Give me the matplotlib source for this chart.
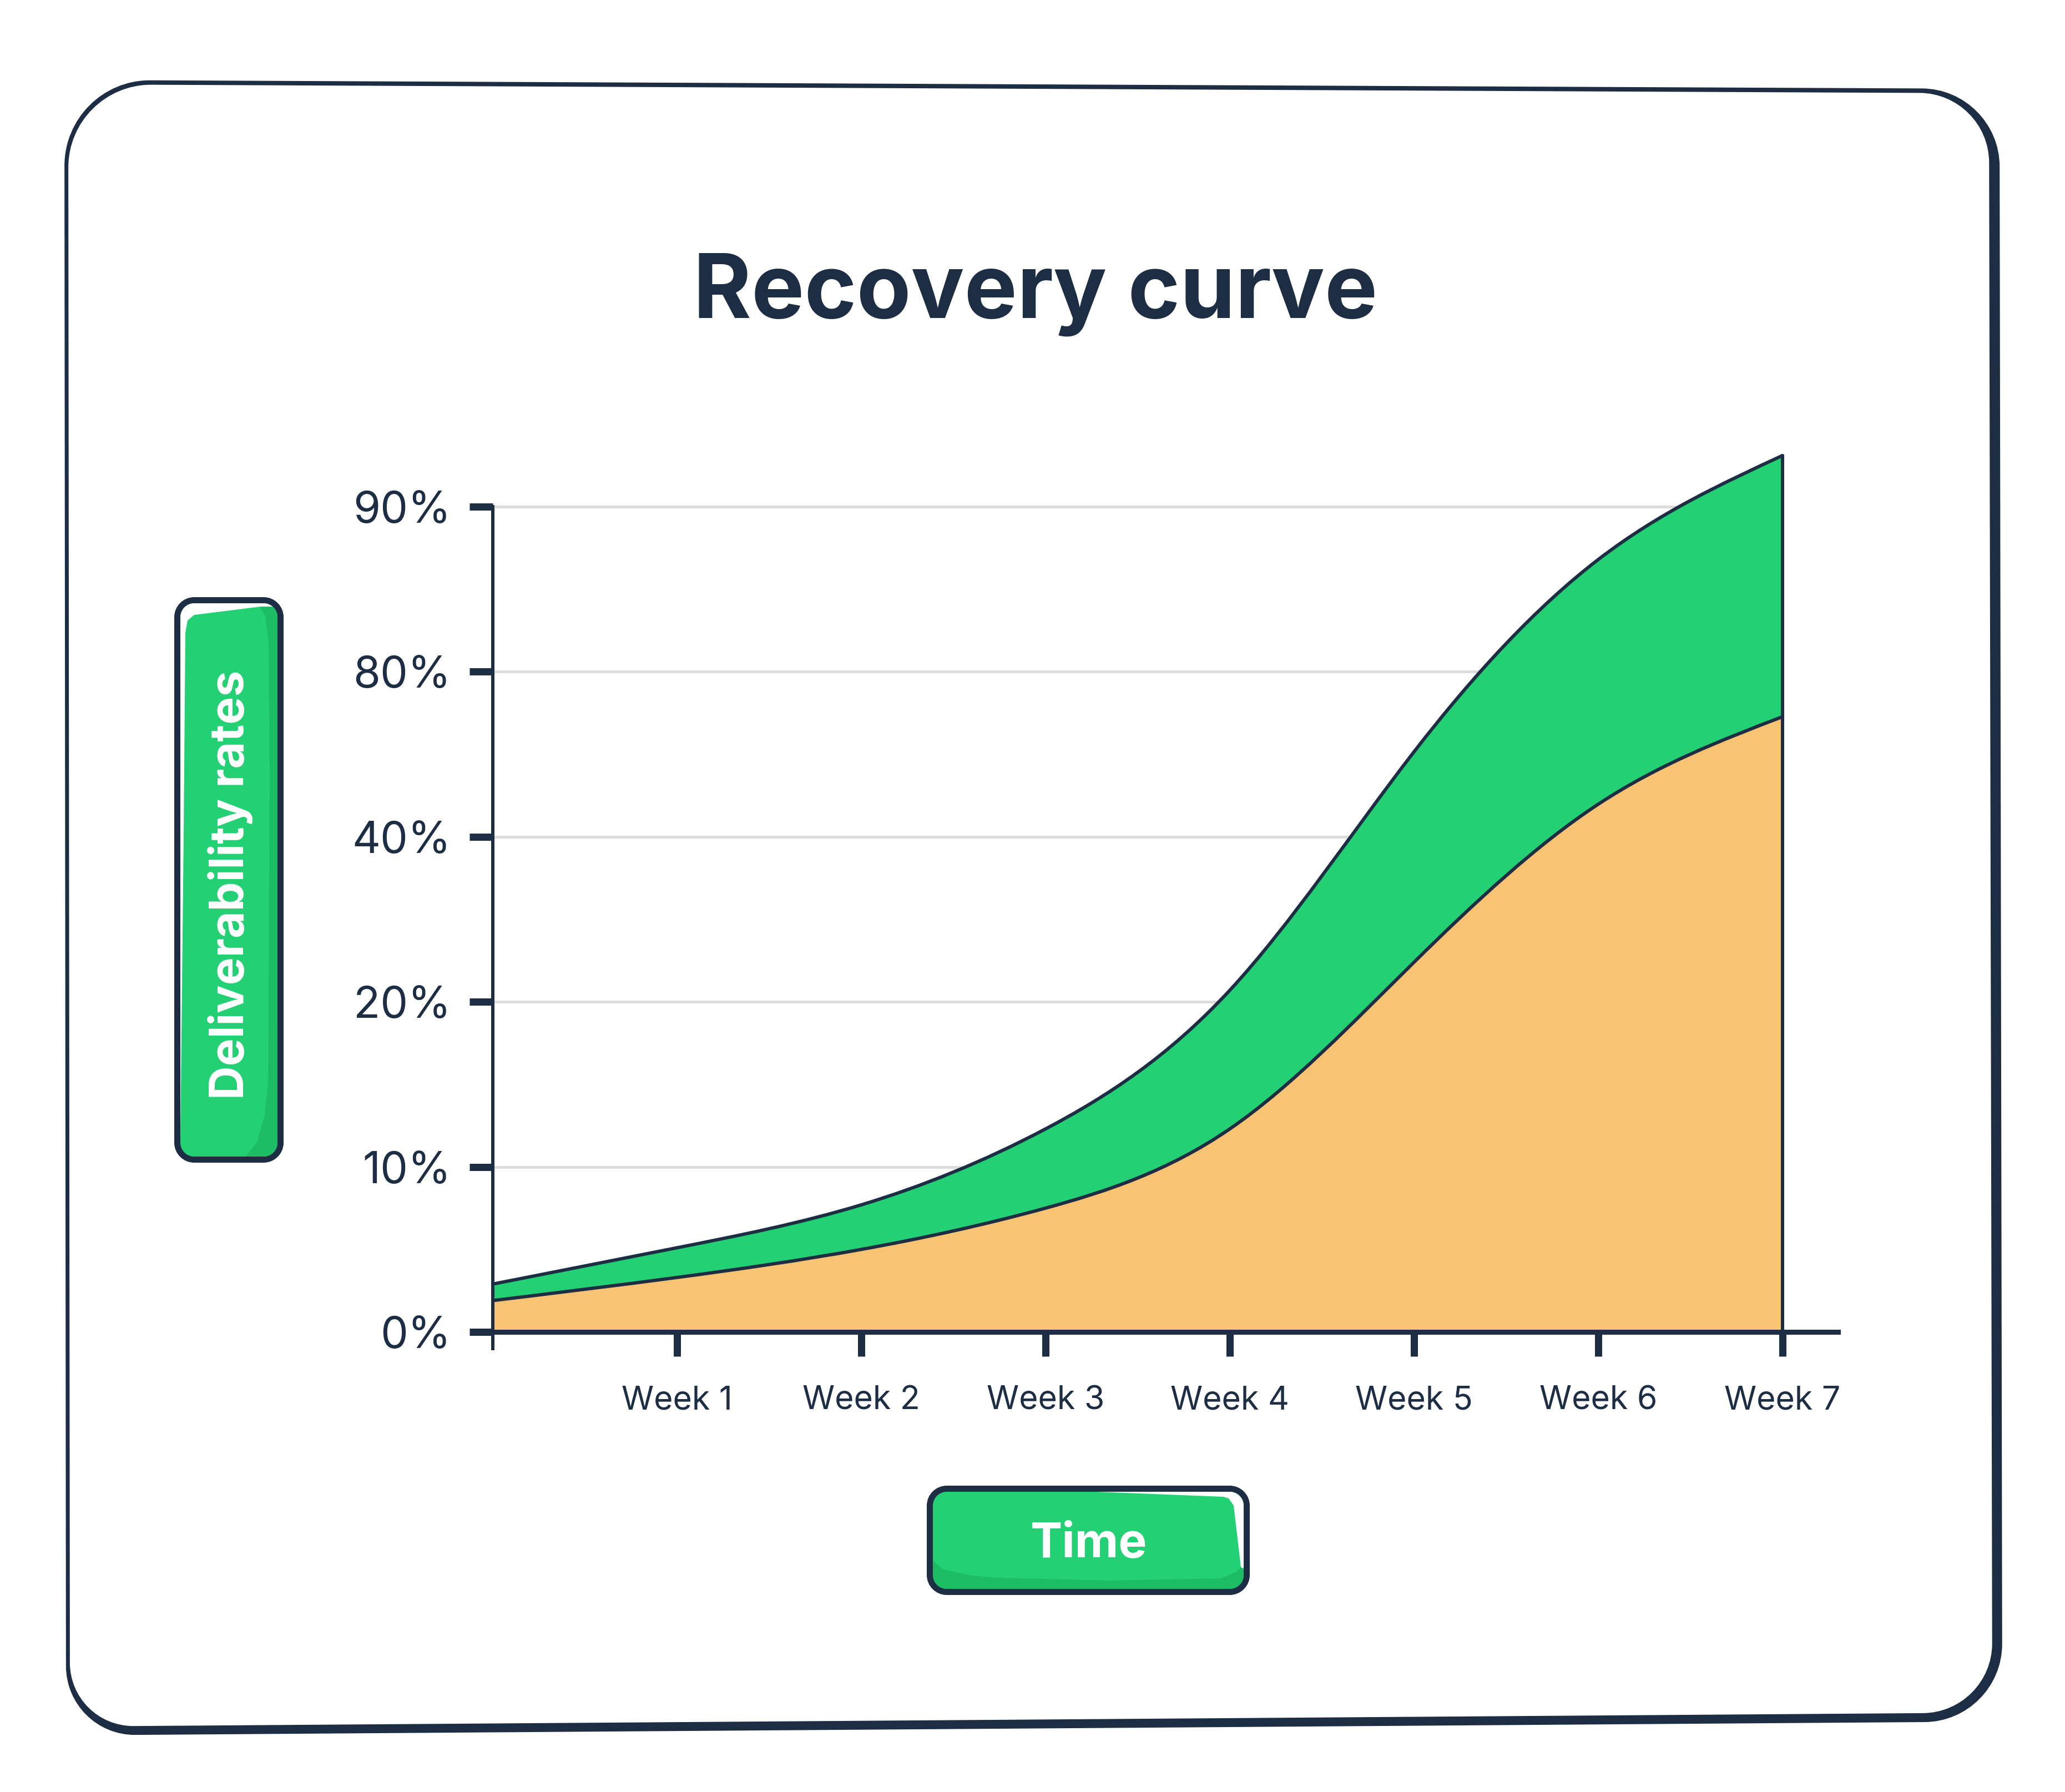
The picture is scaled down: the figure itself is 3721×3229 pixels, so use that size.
import numpy as np
import matplotlib
matplotlib.use("Agg")
import matplotlib.pyplot as plt
from matplotlib.path import Path
from matplotlib.patches import PathPatch, Polygon

# ---------------- data ----------------
weeks = [0, 1, 2, 3, 4, 5, 6, 7]
upper_pct = [2.9, 5.1, 7.7, 12.3, 21.4, 60.6, 86.8, 93.1]
lower_pct = [1.9, 3.3, 5.0, 7.5, 12.3, 24.8, 47.9, 69.1]
week_ticks = [1, 2, 3, 4, 5, 6, 7]
week_labels = ["Week 1", "Week 2", "Week 3", "Week 4", "Week 5", "Week 6", "Week 7"]
y_tick_values = [0, 10, 20, 40, 80, 90]
y_tick_labels = ["0%", "10%", "20%", "40%", "80%", "90%"]
title = "Recovery curve"
y_title = "Deliverability rates"
x_title = "Time"

# ---------------- style ----------------
NAVY = "#1d2d43"
GREEN = "#23d174"
DKGREEN = "#1dbd66"
ORANGE = "#f8c373"
GRID = "#dcdcdc"
plt.rcParams["font.family"] = ["Inter", "DejaVu Sans"]

W, H, DPI = 3721, 3229, 100
PX = 72.0 / DPI  # points per pixel

fig = plt.figure(figsize=(W / DPI, H / DPI), dpi=DPI)
fig.patch.set_facecolor("white")

PCT = np.array(y_tick_values, dtype=float)
LEV = np.arange(len(PCT), dtype=float)


def forward(v):
    v = np.asarray(v, dtype=float)
    out = np.interp(v, PCT, LEV)
    out = np.where(v < PCT[0], LEV[0] + (v - PCT[0]) / (PCT[1] - PCT[0]), out)
    out = np.where(v > PCT[-1], LEV[-1] + (v - PCT[-1]) / (PCT[-1] - PCT[-2]), out)
    return out


def inverse(l):
    l = np.asarray(l, dtype=float)
    out = np.interp(l, LEV, PCT)
    out = np.where(l < LEV[0], PCT[0] + (l - LEV[0]) * (PCT[1] - PCT[0]), out)
    out = np.where(l > LEV[-1], PCT[-1] + (l - LEV[-1]) * (PCT[-1] - PCT[-2]), out)
    return out


# ---------------- main axes ----------------
x_left_px, x_right_px = 888, 3312
lev_bot, lev_top = -0.12, 5.45
zero_px, lev_px = 2400, 297.4
y_bot_px = zero_px - lev_bot * lev_px
y_top_px = zero_px - lev_top * lev_px
ax = fig.add_axes([x_left_px / W, 1 - y_bot_px / H,
                   (x_right_px - x_left_px) / W, (y_bot_px - y_top_px) / H])
ax.set_facecolor("none")
ax.set_yscale("function", functions=(forward, inverse))
ax.set_xlim(0, (x_right_px - x_left_px) / 332.0)
ax.set_ylim(float(inverse(lev_bot)), float(inverse(lev_top)))

# grid
ax.hlines(y_tick_values[1:], 0, weeks[-1], color=GRID, lw=5 * PX, zorder=1)


def spline_segments(xs, ys):
    """Natural cubic spline through the points, as cubic Bezier segments."""
    x = np.asarray(xs, dtype=float)
    y = np.asarray(ys, dtype=float)
    n = len(x)
    h = np.diff(x)
    A = np.zeros((n, n))
    b = np.zeros(n)
    A[0, 0] = A[-1, -1] = 1.0
    for i in range(1, n - 1):
        A[i, i - 1] = h[i - 1]
        A[i, i] = 2 * (h[i - 1] + h[i])
        A[i, i + 1] = h[i]
        b[i] = 6 * ((y[i + 1] - y[i]) / h[i] - (y[i] - y[i - 1]) / h[i - 1])
    M = np.linalg.solve(A, b)
    m = np.zeros(n)
    for i in range(n - 1):
        m[i] = (y[i + 1] - y[i]) / h[i] - h[i] * (2 * M[i] + M[i + 1]) / 6
    m[-1] = (y[-1] - y[-2]) / h[-1] + h[-1] * (M[-2] + 2 * M[-1]) / 6
    P = np.column_stack([x, y])
    segs = []
    for i in range(n - 1):
        d = h[i] / 3.0
        c1 = np.array([x[i] + d, y[i] + m[i] * d])
        c2 = np.array([x[i + 1] - d, y[i + 1] - m[i + 1] * d])
        segs.append((c1, c2, P[i + 1]))
    return P, segs


def to_data(verts):
    v = np.array(verts, dtype=float)
    v[:, 1] = inverse(v[:, 1])
    return v


lowP, lowS = spline_segments(weeks, forward(lower_pct))
upP, upS = spline_segments(weeks, forward(upper_pct))

# orange area
verts = [(weeks[0], 0.0), tuple(lowP[0])]
codes = [Path.MOVETO, Path.LINETO]
for c1, c2, p in lowS:
    verts += [tuple(c1), tuple(c2), tuple(p)]
    codes += [Path.CURVE4] * 3
verts += [(weeks[-1], 0.0), (weeks[0], 0.0)]
codes += [Path.LINETO, Path.CLOSEPOLY]
ax.add_patch(PathPatch(Path(to_data(verts), codes), facecolor=ORANGE,
                       edgecolor="none", zorder=2))

# green area
verts = [tuple(lowP[0])]
codes = [Path.MOVETO]
for c1, c2, p in lowS:
    verts += [tuple(c1), tuple(c2), tuple(p)]
    codes += [Path.CURVE4] * 3
verts.append(tuple(upP[-1]))
codes.append(Path.LINETO)
for i in range(len(upS) - 1, -1, -1):
    c1, c2, p = upS[i]
    verts += [tuple(c2), tuple(c1), tuple(upP[i])]
    codes += [Path.CURVE4] * 3
verts.append(tuple(lowP[0]))
codes.append(Path.CLOSEPOLY)
ax.add_patch(PathPatch(Path(to_data(verts), codes), facecolor=GREEN,
                       edgecolor="none", zorder=2))

# outlines
for P, S in ((lowP, lowS), (upP, upS)):
    verts = [tuple(P[0])]
    codes = [Path.MOVETO]
    for c1, c2, p in S:
        verts += [tuple(c1), tuple(c2), tuple(p)]
        codes += [Path.CURVE4] * 3
    ax.add_patch(PathPatch(Path(to_data(verts), codes), facecolor="none",
                           edgecolor=NAVY, lw=6 * PX, zorder=3,
                           capstyle="round", joinstyle="round"))
ax.plot([weeks[-1], weeks[-1]], [0, upper_pct[-1]], color=NAVY, lw=6 * PX,
        zorder=3, solid_capstyle="round")
ax.plot([weeks[0], weeks[0]], [lower_pct[0], upper_pct[0]], color=NAVY,
        lw=5 * PX, zorder=3)

# spines
for s in ("top", "right"):
    ax.spines[s].set_visible(False)
ax.spines["left"].set_color(NAVY)
ax.spines["left"].set_linewidth(6 * PX)
ax.spines["left"].set_bounds(float(inverse(-0.1)), y_tick_values[-1])
ax.spines["left"].set_zorder(4)
ax.spines["bottom"].set_color(NAVY)
ax.spines["bottom"].set_linewidth(9 * PX)
ax.spines["bottom"].set_position(("data", 0))
ax.spines["bottom"].set_zorder(4)

ax.set_yticks(y_tick_values, y_tick_labels)
ax.set_xticks(week_ticks, week_labels)
ax.minorticks_off()
ax.tick_params(axis="y", direction="out", length=42 * PX, width=13 * PX,
               color=NAVY, pad=33 * PX, labelsize=79 * PX, labelcolor=NAVY)
ax.tick_params(axis="x", direction="out", length=44 * PX, width=13 * PX,
               color=NAVY, pad=52 * PX, labelsize=59 * PX, labelcolor=NAVY)

# ---------------- overlay (frame, title, label boxes) ----------------
ov = fig.add_axes([0, 0, 1, 1])
ov.set_xlim(0, W)
ov.set_ylim(H, 0)
ov.axis("off")
ov.set_zorder(-1)

K = 0.5523


def rounded_path(pts, radii):
    pts = [np.array(p, dtype=float) for p in pts]
    n = len(pts)
    verts, codes = [], []
    for i in range(n):
        P = pts[i]
        prv, nxt = pts[i - 1], pts[(i + 1) % n]
        u = (prv - P) / np.linalg.norm(prv - P)
        v = (nxt - P) / np.linalg.norm(nxt - P)
        r = radii[i]
        S = P + r * u
        E = P + r * v
        verts.append(tuple(S))
        codes.append(Path.MOVETO if i == 0 else Path.LINETO)
        verts += [tuple(S + K * (P - S)), tuple(E + K * (P - E)), tuple(E)]
        codes += [Path.CURVE4] * 3
    verts.append(verts[0])
    codes.append(Path.CLOSEPOLY)
    return Path(verts, codes)


# hand drawn frame (thin top/left, thick right/bottom)
outer = rounded_path([(116, 144), (3603, 160), (3608, 3102), (119, 3127)],
                     [155, 140, 140, 125])
inner = rounded_path([(123, 152), (126, 3111), (3590, 3086), (3584, 168)],
                     [150, 115, 125, 125])
ov.add_patch(PathPatch(Path.make_compound_path(outer, inner),
                       facecolor=NAVY, edgecolor="none"))

# title
ov.text(1866, 573, title, ha="center", va="baseline", fontsize=160 * PX,
        fontweight="bold", color=NAVY)


def label_box(x0, y0, x1, y1, r, white_poly, dark_poly):
    ov.add_patch(PathPatch(rounded_path([(x0, y0), (x1, y0), (x1, y1), (x0, y1)],
                                        [r] * 4),
                           facecolor=NAVY, edgecolor="none", zorder=2))
    b = 11
    inner_p = PathPatch(rounded_path([(x0 + b, y0 + b), (x1 - b, y0 + b),
                                      (x1 - b, y1 - b), (x0 + b, y1 - b)],
                                     [r - b] * 4),
                        facecolor=GREEN, edgecolor="none", zorder=3)
    ov.add_patch(inner_p)
    dp = Polygon(dark_poly, closed=True, facecolor=DKGREEN, edgecolor="none",
                 zorder=4)
    ov.add_patch(dp)
    dp.set_clip_path(inner_p)
    wp = Polygon(white_poly, closed=True, facecolor="white", edgecolor="none",
                 zorder=5)
    ov.add_patch(wp)
    wp.set_clip_path(inner_p)


# y label box
label_box(314, 1076, 511, 2095, 36,
          white_poly=[(318, 1080), (508, 1080), (508, 1093), (470, 1093),
                      (350, 1108), (338, 1118), (334, 1140), (331, 1500),
                      (325, 2050), (318, 2050)],
          dark_poly=[(462, 1085), (478, 1110), (484, 1160), (486, 1400),
                     (483, 1950), (477, 2010), (463, 2058), (438, 2090),
                     (520, 2100), (520, 1085)])
ov.text(415, 1594, y_title, ha="center", va="center", rotation=90,
        fontsize=84 * PX, fontweight="bold", color="white", zorder=6)

# x label box
label_box(1670, 2677, 2252, 2874, 36,
          white_poly=[(1849, 2683), (2248, 2683), (2248, 2830), (2236, 2824),
                      (2223, 2713), (2214, 2700), (2204, 2697)],
          dark_poly=[(1676, 2808), (1700, 2828), (1750, 2839), (1800, 2843),
                     (2000, 2848), (2200, 2844), (2228, 2832), (2246, 2815),
                     (2246, 2880), (1676, 2880)])
ov.text(1962, 2806, x_title, ha="center", va="baseline",
        fontsize=86 * PX, fontweight="bold", color="white", zorder=6)

fig.savefig("out.png", dpi=DPI, facecolor="white")
